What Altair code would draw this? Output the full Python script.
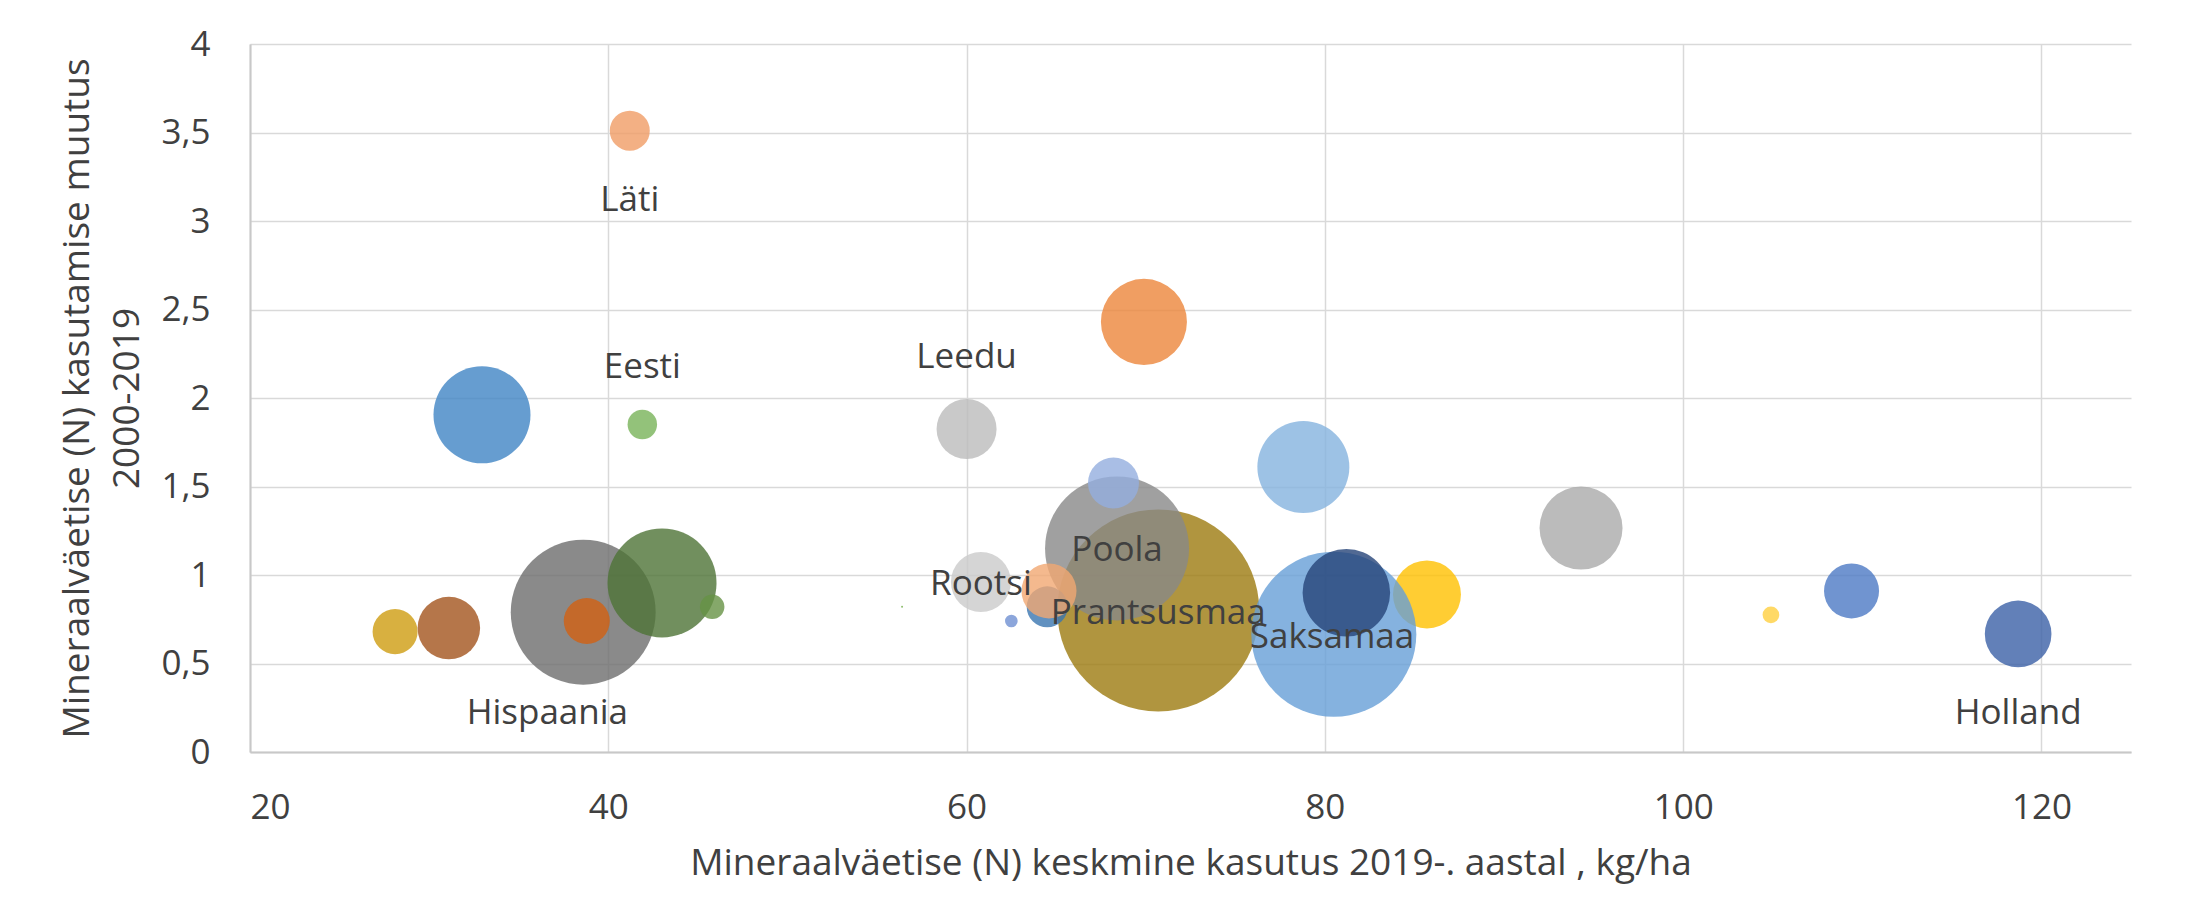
import altair as alt
import pandas as pd

# Bubble data (drawing order: first drawn at bottom)
bubble_x = [38.6, 38.8, 43.0, 45.8, 28.1, 31.1, 32.95, 41.2, 41.9, 60.0, 69.9,
            70.7, 68.4, 68.2, 64.5, 64.6, 60.8, 62.5, 56.4, 78.8, 85.7, 80.5,
            81.2, 94.3, 104.9, 109.4, 118.7]
bubble_y = [0.79, 0.74, 0.955, 0.82, 0.68, 0.70, 1.905, 3.51, 1.85, 1.825, 2.43,
            0.80, 1.15, 1.52, 0.82, 0.91, 0.96, 0.74, 0.82, 1.61, 0.89, 0.665,
            0.90, 1.265, 0.775, 0.91, 0.667]
bubble_size = [210.0, 21.2, 118.8, 6.0, 20.3, 39.1, 94.1, 16.0, 8.7, 36.0, 74.0,
               408.0, 207.4, 26.0, 16.8, 30.3, 36.0, 1.6, 0.04, 84.6, 46.2, 272.3,
               76.6, 68.9, 2.8, 30.3, 44.4]
bubble_color = ["#6D6D6D", "#D26012", "#4D7336", "#669245", "#CE9C10", "#A2541D",
                "#4084C4", "#F09C65", "#78B359", "#BBBBBB", "#EC863B",
                "#9C7A0F", "#888888", "#94AEDF", "#3A75B0", "#F1A772", "#CACACA",
                "#6F90D2", "#70AD47", "#85B3DF", "#FFC000", "#669FD7",
                "#264478", "#AAAAAA", "#FFD040", "#4C79C4", "#3B60A6"]

# Data labels
label_text = ["Läti", "Eesti", "Leedu", "Poola", "Rootsi", "Prantsusmaa",
              "Saksamaa", "Hispaania", "Holland"]
label_x = [41.2, 41.9, 60.0, 68.4, 60.8, 70.7, 80.4, 36.6, 118.7]
label_y = [3.12, 2.175, 2.23, 1.14, 0.95, 0.785, 0.65, 0.22, 0.22]

x_ticks = [20, 40, 60, 80, 100, 120]
y_ticks = [0, 0.5, 1, 1.5, 2, 2.5, 3, 3.5, 4]

bubbles = pd.DataFrame({
    "x": bubble_x, "y": bubble_y, "s": bubble_size, "c": bubble_color,
    "i": list(range(len(bubble_x)))
})
labels = pd.DataFrame({"x": label_x, "y": label_y, "t": label_text})

FONT = "Open Sans"
TXT = "#404040"

xscale = alt.Scale(domain=[20, 125], nice=False, zero=False)
yscale = alt.Scale(domain=[0, 4], nice=False)

points = alt.Chart(bubbles).mark_circle(opacity=0.8).encode(
    x=alt.X("x:Q", scale=xscale,
            axis=alt.Axis(values=x_ticks, title="Mineraalväetise (N) keskmine kasutus 2019-. aastal , kg/ha",
                          labelPadding=38, titlePadding=20)),
    y=alt.Y("y:Q", scale=yscale,
            axis=alt.Axis(values=y_ticks,
                          labelExpr="replace(toString(datum.value), '.', ',')",
                          title=["Mineraalväetise (N) kasutamise muutus", "2000-2019"],
                          labelPadding=40, titlePadding=14)),
    size=alt.Size("s:Q", scale=alt.Scale(type="linear", domain=[0, 400], range=[0, 40000]), legend=None),
    color=alt.Color("c:N", scale=None),
    order=alt.Order("i:Q"),
)

texts = alt.Chart(labels).mark_text(
    font=FONT, fontSize=35, color=TXT, align="center", baseline="middle"
).encode(
    x=alt.X("x:Q", scale=xscale),
    y=alt.Y("y:Q", scale=yscale),
    text="t:N",
)

chart = alt.layer(points, texts).properties(
    width=1881, height=708,
    background="white",
    autosize=alt.AutoSizeParams(type="none"),
    padding={"left": 242, "top": 36, "right": 57, "bottom": 150},
).configure_view(stroke=None).configure_axis(
    labelFont=FONT, labelFontSize=35, labelColor=TXT,
    titleFont=FONT, titleFontSize=37, titleColor=TXT, titleFontWeight="normal",
    titleLineHeight=50,
    grid=True, gridColor="#D9D9D9", gridWidth=1.5,
    domainColor="#C8C8C8", domainWidth=2,
    ticks=False,
)

chart.save("out.html", embed_options={"renderer": "svg", "actions": False})
